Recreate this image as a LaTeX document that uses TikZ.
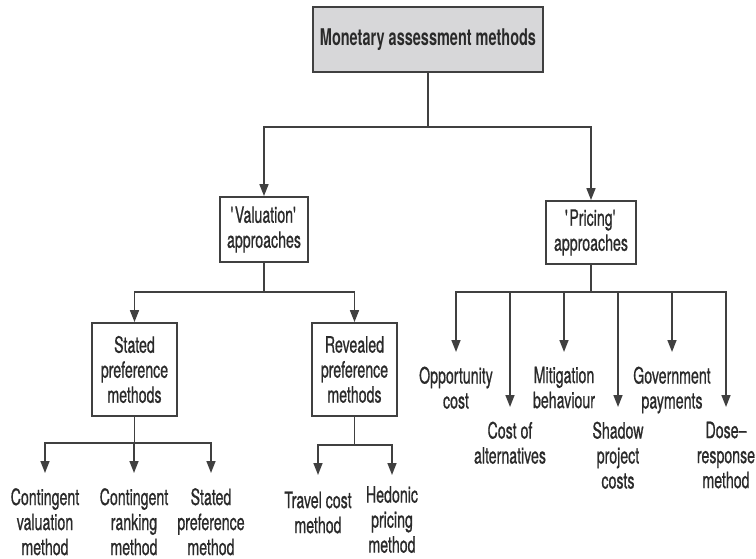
\documentclass[tikz,border=0pt]{standalone}
\usepackage{fontspec}
\setmainfont{TeX Gyre Heros}[FakeStretch=0.63, UprightFeatures={FakeBold=0.7}]
\usetikzlibrary{arrows.meta}
\definecolor{ink}{HTML}{2A2A2A}
\definecolor{linec}{HTML}{404040}
\definecolor{boxfill}{HTML}{D7D7D9}
\begin{document}
\begin{tikzpicture}[x=1pt,y=-1pt,
  every node/.style={text=ink, font=\fontsize{22.5}{25}\selectfont},
  box/.style={draw=linec, line width=1.8pt, align=center, inner sep=0pt},
  leaf/.style={align=center, inner sep=0pt, anchor=north},
  conn/.style={draw=linec, line width=1.6pt},
  arr/.style={conn, -{Triangle[length=12pt,width=9pt]}}]
\useasboundingbox (0,0) rectangle (756,559);
% boxes
\node[box, fill=boxfill, minimum width=230pt, minimum height=65pt, font=\fontsize{23}{25}\selectfont\bfseries] (top) at (428,39.5) {Monetary assessment methods};
\node[box, minimum width=88pt, minimum height=65pt] (val) at (264,229.5) {\textquotesingle Valuation\textquotesingle\\approaches};
\node[box, minimum width=90pt, minimum height=63pt] (pri) at (591,232.5) {\textquotesingle Pricing\textquotesingle\\approaches};
\node[box, minimum width=85pt, minimum height=93pt] (sta) at (134.5,369.5) {Stated\\preference\\methods};
\node[box, minimum width=85pt, minimum height=93pt] (rev) at (354.5,369.5) {Revealed\\preference\\methods};
% junctions
\coordinate (j0) at (428,127);
\coordinate (j1) at (264,292);
\coordinate (j2) at (591,292);
\coordinate (j3) at (134.5,443);
\coordinate (j4) at (354.5,445);
% leaves
\node[leaf] (opp) at (456,366.5) {Opportunity\\cost};
\node[leaf] (mit) at (564,366.5) {Mitigation\\behaviour};
\node[leaf] (gov) at (672,366.5) {Government\\payments};
\node[leaf] (coa) at (510,421.5) {Cost of\\alternatives};
\node[leaf] (sha) at (618,421.5) {Shadow\\project\\costs};
\node[leaf] (dos) at (726,421.5) {Dose–\\response\\method};
\node[leaf] (cvm) at (45,488) {Contingent\\valuation\\method};
\node[leaf] (crm) at (134,488) {Contingent\\ranking\\method};
\node[leaf] (spm) at (211,488) {Stated\\preference\\method};
\node[leaf] (tcm) at (318,491.5) {Travel cost\\method};
\node[leaf] (hpm) at (392,486) {Hedonic\\pricing\\method};
% connectors
\draw[conn] (top.south) -- (j0);
\draw[arr] (j0) -| (val.north);
\draw[arr] (j0) -| (pri.north);
\draw[conn] (val.south) -- (j1);
\draw[arr] (j1) -| (sta.north);
\draw[arr] (j1) -| (rev.north);
\draw[conn] (pri.south) -- (j2);
\draw[arr, shorten >=14.5pt] (j2) -| (opp.north);
\draw[arr, shorten >=14.5pt] (j2) -| (coa.north);
\draw[arr, shorten >=14.5pt] (j2) -| (mit.north);
\draw[arr, shorten >=14.5pt] (j2) -| (sha.north);
\draw[arr, shorten >=14.5pt] (j2) -| (gov.north);
\draw[arr, shorten >=14.5pt] (j2) -| (dos.north);
\draw[conn] (sta.south) -- (j3);
\draw[arr, shorten >=15pt] (j3) -| (cvm.north);
\draw[arr, shorten >=15pt] (j3) -| (crm.north);
\draw[arr, shorten >=15pt] (j3) -| (spm.north);
\draw[conn] (rev.south) -- (j4);
\draw[arr, shorten >=16.5pt] (j4) -| (tcm.north);
\draw[arr, shorten >=11pt] (j4) -| (hpm.north);
\end{tikzpicture}
\end{document}
